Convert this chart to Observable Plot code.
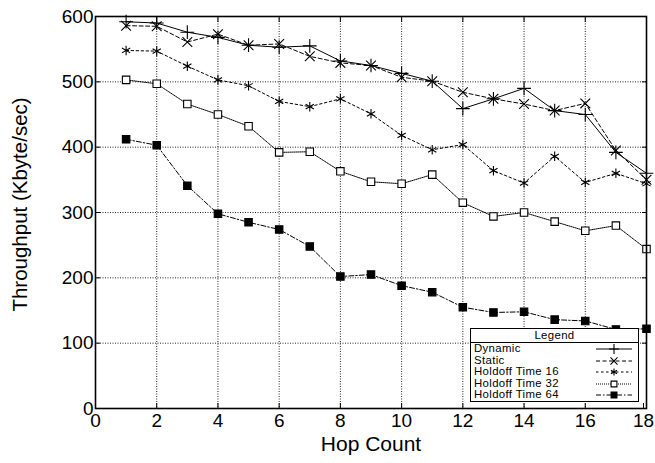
<!DOCTYPE html>
<html><head><meta charset="utf-8">
<script src="https://cdn.jsdelivr.net/npm/d3@7"></script>
<script src="https://cdn.jsdelivr.net/npm/@observablehq/plot@0.6"></script>
<style>
body{margin:0;background:#fff;}
#wrap{position:relative;width:655px;height:463px;font-family:"Liberation Sans",Arial,sans-serif;}
#legend{position:absolute;left:470px;top:328px;width:169px;height:74px;border:1.5px solid #000;background:#fff;box-sizing:border-box;font-size:11.4px;letter-spacing:0.35px;line-height:11.5px;color:#000;}
#legend .title{height:13px;border-bottom:1.5px solid #000;text-align:center;line-height:13px;}
#legend .row{position:relative;height:11.6px;padding-left:3px;white-space:nowrap;}
#legend .row svg{position:absolute;left:124px;top:0;}
</style>
</head><body>
<div id="wrap"></div>
<script>
const hops = [1,2,3,4,5,6,7,8,9,10,11,12,13,14,15,16,17,18];
const dynamic   = [592,590,576,568,556,553,555,532,525,513,501,459,474,490,456,450,392,360];
const staticV   = [586,585,561,573,556,558,539,529,525,507,501,484,474,466,456,467,395,350];
const holdoff16 = [548,547,524,503,494,470,462,474,451,418,396,404,364,345,386,346,360,344];
const holdoff32 = [503,497,466,450,432,392,393,363,347,344,358,315,294,300,286,272,280,244];
const holdoff64 = [412,403,341,298,285,274,248,202,205,188,178,155,147,148,136,134,121,122];
const seriesNames = ["Dynamic","Static","Holdoff Time 16","Holdoff Time 32","Holdoff Time 64"];
const xTicks = [0,2,4,6,8,10,12,14,16,18];
const yTicks = [0,100,200,300,400,500,600];

const valuesBySeries = [dynamic, staticV, holdoff16, holdoff32, holdoff64];
const styles = [
  {dash: null, symbol: "plus", fill: "none", r: 4.5},
  {dash: "4,2.5", symbol: "times", fill: "none", r: 4.5},
  {dash: "2.5,2.5", symbol: "asterisk", fill: "none", r: 4.5},
  {dash: "1,1", symbol: "square", fill: "white", r: 4.2},
  {dash: "5,2,1.5,2", symbol: "square", fill: "black", r: 4.2}
];
const rows = seriesNames.flatMap((s, i) => hops.map((h, j) => ({series: s, hop: h, value: valuesBySeries[i][j]})));

const marks = [
  Plot.gridX(xTicks.slice(1, -1), {stroke: "#000", strokeOpacity: 0.85, strokeDasharray: "1,1.5"}),
  Plot.gridY(yTicks.slice(1, -1), {stroke: "#000", strokeOpacity: 0.85, strokeDasharray: "1,1.5"}),
  Plot.axisX({ticks: xTicks.slice(0, -1), tickSize: -5, tickPadding: 10, fontSize: 19, label: null}),
  Plot.axisX({ticks: xTicks.slice(-1), tickSize: -5, tickPadding: 10, fontSize: 19, dx: -3, label: null}),
  Plot.axisY({ticks: yTicks, tickSize: -5, tickPadding: 7, fontSize: 19, label: null}),
  Plot.axisX({anchor: "top", ticks: xTicks, tickSize: -5, tickFormat: () => "", label: null}),
  Plot.axisY({anchor: "right", ticks: yTicks, tickSize: -5, tickFormat: () => "", label: null}),
];
seriesNames.forEach((s, i) => {
  const st = styles[i];
  const d = rows.filter(r => r.series === s);
  marks.push(Plot.line(d, {x: "hop", y: "value", stroke: "#000", strokeWidth: 1, strokeDasharray: st.dash}));
});
seriesNames.forEach((s, i) => {
  const st = styles[i];
  const d = rows.filter(r => r.series === s);
  marks.push(Plot.dot(d, {x: "hop", y: "value", symbol: st.symbol, r: st.r, stroke: "#000", strokeWidth: 1.1, fill: st.fill}));
});
marks.push(Plot.frame({stroke: "#000", strokeWidth: 1.6}));
marks.push(Plot.text(["Throughput (Kbyte/sec)"], {frameAnchor: "left", textAnchor: "middle", dx: -75, dy: -8, rotate: -90, fontSize: 20.5, fill: "#000"}));
marks.push(Plot.text(["Hop Count"], {frameAnchor: "bottom", textAnchor: "middle", dy: 42, fontSize: 21, fill: "#000"}));

const chart = Plot.plot({
  width: 655, height: 463,
  marginLeft: 95, marginRight: 9, marginTop: 16, marginBottom: 55,
  x: {domain: [0, 18], label: null},
  y: {domain: [0, 600], label: null},
  style: {fontFamily: "'Liberation Sans', Arial, sans-serif", color: "#000", background: "#fff", overflow: "visible"},
  marks
});
const wrap = document.getElementById("wrap");
wrap.appendChild(chart);

// legend
const leg = document.createElement("div");
leg.id = "legend";
const title = document.createElement("div");
title.className = "title";
title.textContent = "Legend";
leg.appendChild(title);
const symMap = {plus: d3.symbolPlus, times: d3.symbolTimes, asterisk: d3.symbolAsterisk, square: d3.symbolSquare};
seriesNames.forEach((s, i) => {
  const st = styles[i];
  const row = document.createElement("div");
  row.className = "row";
  row.textContent = s;
  const svg = d3.create("svg").attr("width", 38).attr("height", 12);
  svg.append("line").attr("x1", 1).attr("x2", 37).attr("y1", 6).attr("y2", 6)
    .attr("stroke", "#000").attr("stroke-width", 1).attr("stroke-dasharray", st.dash);
  svg.append("path").attr("transform", "translate(19,6)")
    .attr("d", d3.symbol(symMap[st.symbol], Math.PI * 3.3 * 3.3)())
    .attr("stroke", "#000").attr("stroke-width", 1.1).attr("fill", st.fill);
  row.appendChild(svg.node());
  leg.appendChild(row);
});
wrap.appendChild(leg);
</script>
</body></html>
